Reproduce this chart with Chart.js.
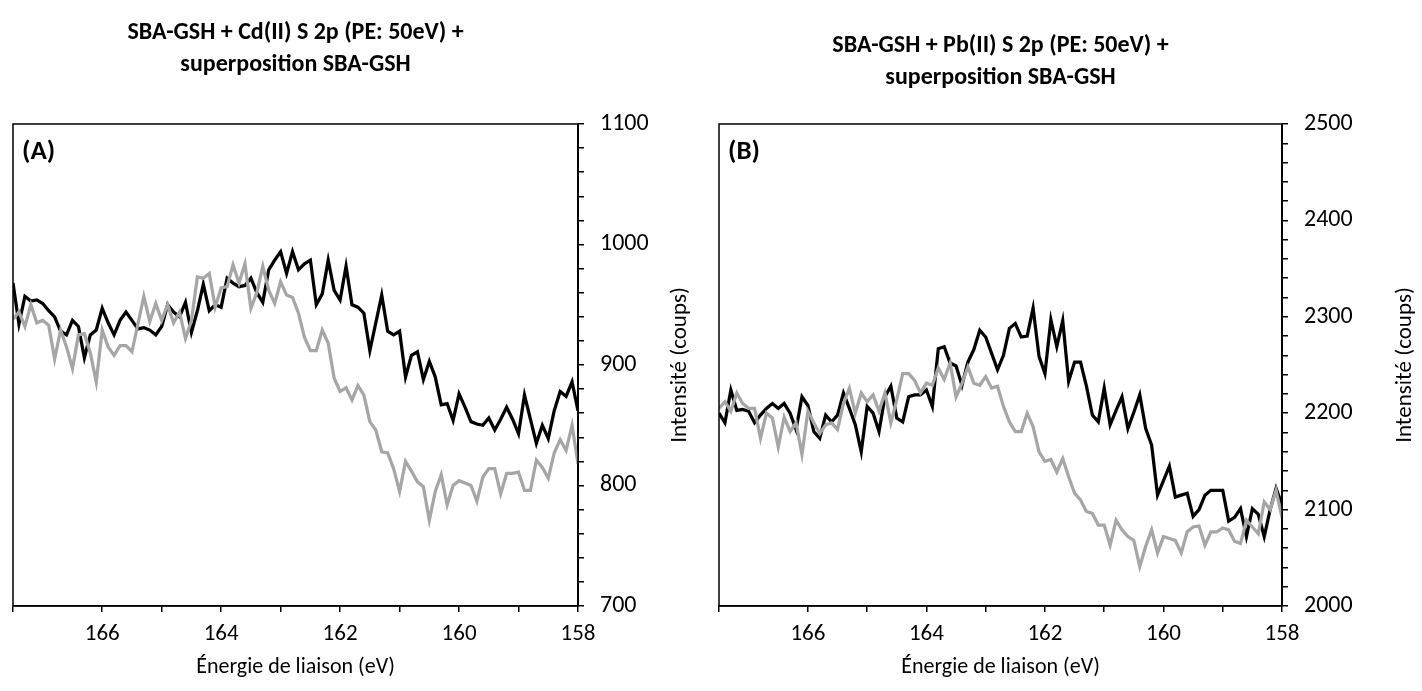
<!DOCTYPE html>
<html>
<head>
<meta charset="utf-8">
<script src="https://cdn.jsdelivr.net/npm/chart.js@4.4.1/dist/chart.umd.min.js"></script>
<style>
  html, body { margin: 0; padding: 0; background: #fff; }
  #wrap { position: relative; width: 1422px; height: 691px; }
  canvas { position: absolute; top: 0; }
  #chartA { left: 0; }
  #chartB { left: 711px; }
</style>
</head>
<body>
<div id="wrap">
  <canvas id="chartA" width="711" height="691"></canvas>
  <canvas id="chartB" width="711" height="691"></canvas>
</div>
<script>
// ===============================
// DATA
// ===============================
const energy = [
  167.5,167.4,167.3,167.2,167.1,167.0,166.9,166.8,166.7,166.6,
  166.5,166.4,166.3,166.2,166.1,166.0,165.9,165.8,165.7,165.6,
  165.5,165.4,165.3,165.2,165.1,165.0,164.9,164.8,164.7,164.6,
  164.5,164.4,164.3,164.2,164.1,164.0,163.9,163.8,163.7,163.6,
  163.5,163.4,163.3,163.2,163.1,163.0,162.9,162.8,162.7,162.6,
  162.5,162.4,162.3,162.2,162.1,162.0,161.9,161.8,161.7,161.6,
  161.5,161.4,161.3,161.2,161.1,161.0,160.9,160.8,160.7,160.6,
  160.5,160.4,160.3,160.2,160.1,160.0,159.9,159.8,159.7,159.6,
  159.5,159.4,159.3,159.2,159.1,159.0,158.9,158.8,158.7,158.6,
  158.5,158.4,158.3,158.2,158.1,158.0
];

// (A) SBA-GSH + Cd(II)
const cdSample = [
  968,934,957,953,954,951,945,940,928,925,
  937,932,906,925,929,947,935,925,937,944,
  937,930,931,929,925,932,950,944,940,952,
  927,945,967,945,950,948,972,968,965,966,
  972,960,952,979,987,994,976,994,979,984,
  987,950,959,987,962,954,982,950,948,943,
  912,935,958,928,925,928,890,908,911,888,
  903,890,867,868,854,876,865,853,851,850,
  856,846,855,865,855,843,875,855,835,850,
  839,862,878,874,886,862
];
const cdRef = [
  938,944,932,950,935,937,933,905,929,915,
  897,925,926,910,886,929,915,908,916,916,
  911,934,957,936,951,937,950,935,944,922,
  937,973,972,976,948,964,965,983,968,984,
  947,960,982,962,951,969,958,956,943,923,
  912,912,929,918,889,878,881,871,883,875,
  853,846,828,827,814,795,820,812,803,799,
  771,795,809,784,800,804,802,800,787,807,
  814,814,793,810,810,811,796,796,821,815,
  806,827,838,829,850,818
];

// (B) SBA-GSH + Pb(II)
const pbSample = [
  2200,2190,2224,2203,2204,2202,2190,2198,2205,2210,
  2205,2210,2200,2183,2217,2208,2181,2174,2198,2191,
  2198,2221,2205,2188,2160,2207,2200,2181,2217,2228,
  2195,2191,2217,2219,2219,2224,2207,2267,2269,2252,
  2249,2229,2253,2266,2286,2279,2262,2245,2260,2288,
  2293,2279,2280,2309,2259,2241,2297,2269,2296,2233,
  2253,2253,2228,2198,2191,2226,2188,2203,2217,2184,
  2201,2219,2184,2167,2115,2130,2145,2113,2115,2117,
  2093,2100,2115,2120,2120,2120,2088,2092,2101,2072,
  2101,2095,2072,2100,2122,2105
];
const pbRef = [
  2205,2212,2202,2221,2210,2205,2205,2174,2200,2195,
  2165,2196,2181,2190,2157,2202,2190,2179,2188,2190,
  2183,2210,2226,2200,2221,2212,2219,2202,2221,2190,
  2214,2241,2241,2234,2221,2231,2229,2247,2235,2252,
  2217,2231,2248,2231,2229,2238,2226,2228,2207,2191,
  2181,2181,2200,2186,2160,2150,2152,2139,2153,2134,
  2117,2110,2098,2096,2084,2084,2063,2089,2079,2072,
  2068,2041,2062,2079,2055,2072,2070,2068,2055,2077,
  2082,2083,2063,2077,2077,2081,2079,2067,2065,2089,
  2082,2075,2108,2100,2120,2092
];

const titleA = ["SBA-GSH + Cd(II) S 2p (PE: 50eV) +", "superposition SBA-GSH"];
const titleB = ["SBA-GSH + Pb(II) S 2p (PE: 50eV) +", "superposition SBA-GSH"];
const xTitle = "Énergie de liaison (eV)";
const yTitle = "Intensité (coups)";

const FONT = "Calibri, Carlito, Lato, sans-serif";

// ===============================
// FRAME / LABELS PLUGIN
// ===============================
const framePlugin = {
  id: "frame",
  afterDatasetsDraw(chart, args, opts) {
    const { ctx, chartArea: a } = chart;
    ctx.save();
    ctx.strokeStyle = "#000";
    ctx.lineWidth = 1.5;
    ctx.strokeRect(a.left, a.top, a.right - a.left, a.bottom - a.top);
    ctx.restore();
  },
  afterDraw(chart, args, opts) {
    const { ctx, chartArea: a } = chart;
    ctx.save();
    ctx.fillStyle = "#000";
    ctx.font = "bold 27px " + FONT;
    ctx.textAlign = "left";
    ctx.textBaseline = "middle";
    ctx.fillText(opts.panel, a.left + 9, a.top + 28);

    ctx.font = "23px " + FONT;
    ctx.translate(opts.yTitleX, (a.top + a.bottom) / 2);
    ctx.rotate(-Math.PI / 2);
    ctx.textAlign = "center";
    ctx.fillText(opts.yTitle, 0, 0);
    ctx.restore();
  }
};

function makeChart(id, cfg) {
  return new Chart(document.getElementById(id), {
    type: "line",
    data: {
      datasets: [
        {
          label: "superposition SBA-GSH",
          data: energy.map((e, i) => ({ x: e, y: cfg.ref[i] })),
          borderColor: "#a6a6a6",
          borderWidth: 3.25,
          pointRadius: 0,
          tension: 0
        },
        {
          label: "échantillon",
          data: energy.map((e, i) => ({ x: e, y: cfg.sample[i] })),
          borderColor: "#000",
          borderWidth: 3.25,
          pointRadius: 0,
          tension: 0
        }
      ]
    },
    options: {
      responsive: false,
      animation: false,
      layout: { padding: { left: cfg.padLeft, right: 0, top: 0, bottom: 0 } },
      plugins: {
        legend: { display: false },
        tooltip: { enabled: false },
        title: {
          display: true,
          text: cfg.title,
          fullSize: false,
          color: "#000",
          font: { family: FONT, size: 24, weight: "bold", lineHeight: 1.333 },
          padding: { top: cfg.titleTop, bottom: 124 - 64 - cfg.titleTop }
        },
        frame: { panel: cfg.panel, yTitle: yTitle, yTitleX: cfg.yTitleX }
      },
      scales: {
        x: {
          type: "linear",
          reverse: true,
          min: 158,
          max: 167.5,
          afterFit: s => { s.height = 85; },
          grid: { drawOnChartArea: false, drawTicks: true, tickLength: 6, color: "#000", lineWidth: 1.5 },
          border: { color: "#000", width: 1.5 },
          ticks: {
            stepSize: 1,
            autoSkip: false,
            maxRotation: 0,
            padding: 8,
            color: "#000",
            font: { family: FONT, size: 23 },
            callback: v => (v % 2 === 0 ? v : "")
          },
          title: {
            display: true,
            text: xTitle,
            color: "#000",
            font: { family: FONT, size: 22 },
            padding: { top: 0, bottom: 10 }
          }
        },
        y: {
          position: "right",
          min: cfg.yMin,
          max: cfg.yMax,
          afterFit: s => { s.width = cfg.yWidth; },
          grid: { drawOnChartArea: false, drawTicks: true, tickLength: 6, color: "#000", lineWidth: 1.5 },
          border: { color: "#000", width: 2 },
          ticks: {
            stepSize: 20,
            autoSkip: false,
            padding: 16,
            color: "#000",
            font: { family: FONT, size: 24 },
            callback: v => (v % 100 === 0 ? v : "")
          }
        }
      }
    },
    plugins: [framePlugin]
  });
}

// ===============================
// CHARTS
// ===============================
makeChart("chartA", {
  sample: cdSample, ref: cdRef, title: titleA, panel: "(A)",
  yMin: 700, yMax: 1100, yWidth: 133, padLeft: 13, titleTop: 17, yTitleX: 680
});

makeChart("chartB", {
  sample: pbSample, ref: pbRef, title: titleB, panel: "(B)",
  yMin: 2000, yMax: 2500, yWidth: 140, padLeft: 7, titleTop: 30, yTitleX: 694
});
</script>
</body>
</html>
